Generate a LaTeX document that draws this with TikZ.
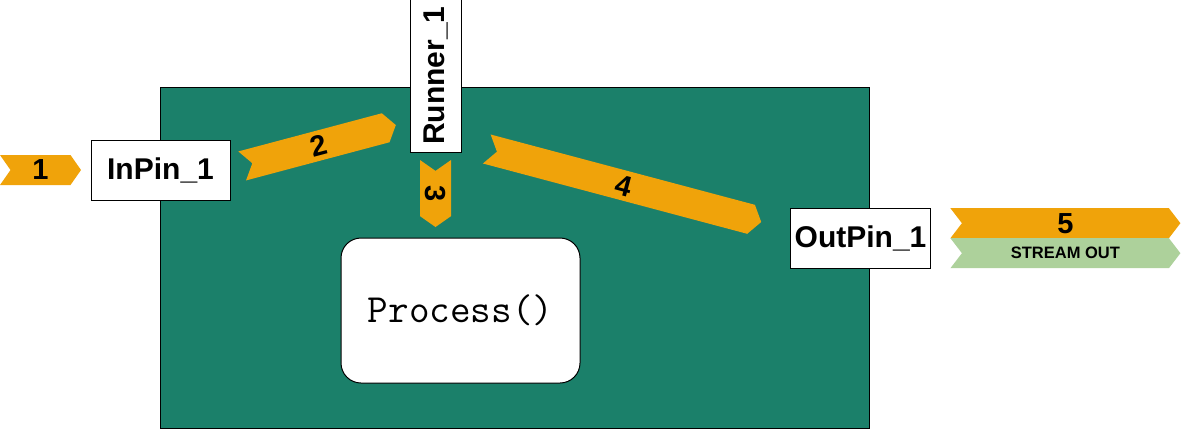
\documentclass[tikz,border=0pt]{standalone}
\usepackage{fontspec}
\setmainfont{Liberation Sans}
\usetikzlibrary{shapes.symbols}
\definecolor{dgreen}{HTML}{1B806A}
\definecolor{orng}{HTML}{F0A30A}
\definecolor{lgreen}{HTML}{ADD19B}
\tikzset{
  chev/.style={signal, signal to=east, signal from=west, signal pointer angle=110,
    fill=orng, draw=none, inner sep=0pt, minimum height=30pt,
    font=\bfseries\fontsize{29}{29}\selectfont},
  pinbox/.style={draw=black, line width=1pt, fill=white, inner sep=0pt,
    font=\bfseries\fontsize{30}{30}\selectfont},
}
\begin{document}
\begin{tikzpicture}[x=1pt,y=-1pt]
\useasboundingbox (0,0) rectangle (1181,429);
% component body
\node[draw=black, line width=1pt, fill=dgreen, minimum width=709pt, minimum height=341pt, inner sep=0pt] (body) at (514.5,257.5) {};
% steps
\node[chev, minimum width=81pt] (c1) at (40.5,170) {1};
\node[chev, minimum width=159pt, rotate=14.9] (c2) at (319,145.5) {2};
\node[chev, minimum width=67pt, minimum height=31pt, rotate=-90] (c3) at (435.5,193.5) {3};
\node[chev, minimum width=284pt, rotate=-14.9] (c4) at (624,185.5) {4};
\node[chev, minimum width=230pt, anchor=north west, signal pointer angle=105] (c5) at (950,208) {5};
\node[chev, fill=lgreen, minimum width=230pt, anchor=north west, signal pointer angle=105,
  font=\bfseries\fontsize{16.5}{16.5}\selectfont] (s5) at (950,238) {STREAM OUT};
% pins and runner
\node[pinbox, minimum width=139pt, minimum height=60pt] (inpin) at (160.5,170.5) {InPin\_1};
\node[pinbox, minimum width=140pt, minimum height=60pt] (outpin) at (860.5,238.5) {OutPin\_1};
\node[pinbox, minimum width=153pt, minimum height=51pt, rotate=90] (runner) at (436,75.5) {Runner\_1};
% process
\node[draw=black, line width=1pt, fill=white, rounded corners=20pt, minimum width=239pt, minimum height=145pt, inner sep=0pt,
  font=\ttfamily\fontsize{40}{40}\selectfont] (proc) at (460.5,310.5) {Process()};
\end{tikzpicture}
\end{document}
